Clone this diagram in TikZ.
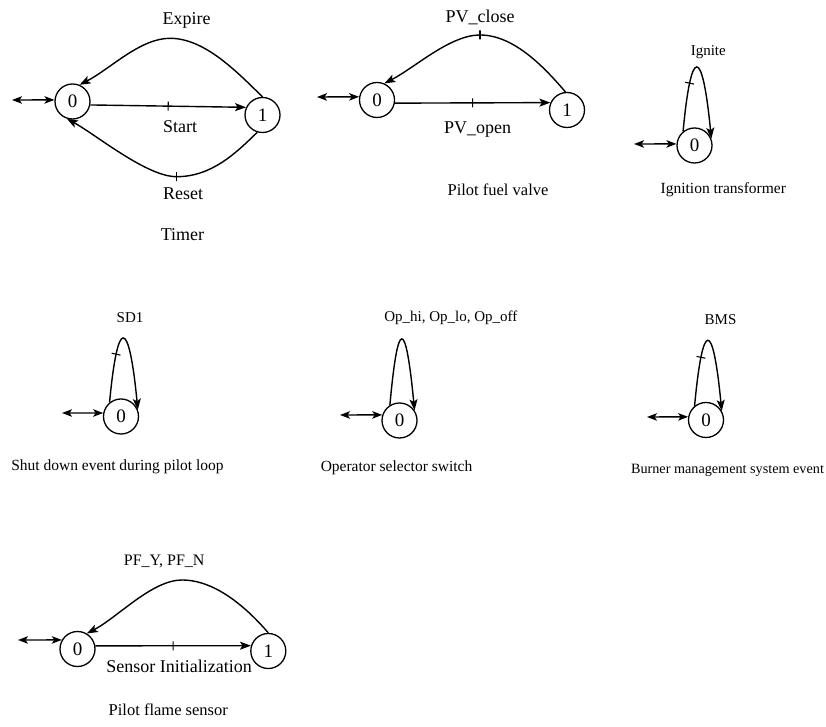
\documentclass[tikz,border=0pt]{standalone}
\usepackage{fontspec}
\setmainfont{Liberation Serif}
\usetikzlibrary{arrows.meta}
\begin{document}
\begin{tikzpicture}[x=1pt,y=1pt,
  stt/.style={circle, draw, line width=1.3pt, minimum size=35pt, inner sep=0pt,
              font=\fontsize{19}{19}\selectfont},
  trans/.style={line width=1.4pt, -{Stealth[length=11pt,width=8pt,inset=2.5pt]}},
  initarr/.style={line width=1.4pt,
              {Stealth[length=10pt,width=7.5pt,inset=2.5pt]}-{Stealth[length=10pt,width=7.5pt,inset=2.5pt]}},
  tickmark/.style={draw, rectangle, line width=1.1pt, sloped, inner sep=0pt,
              minimum width=0pt, minimum height=9pt},
  lbl/.style={inner sep=0pt, font=\fontsize{18}{18}\selectfont},
  slbl/.style={inner sep=0pt, font=\fontsize{15}{15}\selectfont},
  captext/.style={inner sep=0pt, font=\fontsize{15.5}{15.5}\selectfont},
  bigcap/.style={inner sep=0pt, font=\fontsize{16.5}{16.5}\selectfont}
]
\useasboundingbox (0,0) rectangle (826,727);

% ---------- Timer ----------
\node[stt] (T0) at (72.5,625.5) {0};
\node[stt] (T1) at (262.5,612) {1};
\coordinate (Tin) at (12,627);
\draw[initarr] (Tin) -- (T0.175);
\draw[trans] (T0.-11) -- node[tickmark]{} (T1.155);
\draw[trans] (T1.north) .. controls (237.5,654.5) and (205,688.7) .. (170,688.7)
   .. controls (140,688.7) and (110.2,658) .. (T0.67);
\draw[trans] (T1.253) .. controls (236.2,574.1) and (211.7,550.3) .. (176.7,550.3)
   node[tickmark,pos=1]{}
   .. controls (146.7,550.3) and (97.4,591.4) .. (T0.252);
\node[lbl] (Texp) at (186.5,707) {Expire};
\node[lbl] (Tst) at (180,600) {Start};
\node[lbl] (Trs) at (183,533.7) {Reset};
\node[lbl] (Tcap) at (182.5,492) {Timer};

% ---------- Pilot fuel valve ----------
\node[stt] (P0) at (377,627) {0};
\node[stt] (P1) at (567,617) {1};
\coordinate (Pin) at (317,630);
\draw[initarr] (Pin) -- (P0.170);
\draw[trans] (P0.-10) -- node[tickmark]{} (P1.156);
\draw[trans] (P1.95) .. controls (546.2,657.4) and (515,692) .. (480,692)
   node[tickmark,pos=1]{}
   .. controls (450,692) and (415,659.4) .. (P0.66);
\node[lbl] (Pcl) at (480,710) {PV\_close};
\node[lbl] (Pop) at (477.5,597) {PV\_open};
\node[bigcap] (Pcap) at (498,537) {Pilot fuel valve};

% ---------- Ignition transformer ----------
\node[stt] (I0) at (694.5,581.5) {0};
\coordinate (Iin) at (634,583);
\draw[initarr] (Iin) -- (I0.175);
\draw[trans] (I0.129) .. controls +(8,86) and +(-9,93) .. (I0.22)
   node[tickmark,pos=0.25]{};
\node[slbl] (Ilb) at (708.3,675) {Ignite};
\node[captext] (Icap) at (723.3,537) {Ignition transformer};

% ---------- Shut down event ----------
\node[stt] (S0) at (121,310.5) {0};
\coordinate (Sin) at (62,314);
\draw[initarr] (Sin) -- (S0.169);
\draw[trans] (S0.129) .. controls +(8,86) and +(-9,93) .. (S0.22)
   node[tickmark,pos=0.25]{};
\node[slbl] (Slb) at (130,409.7) {SD1};
\node[captext] (Scap) at (117.5,260) {Shut down event during pilot loop};

% ---------- Operator selector switch ----------
\node[stt] (O0) at (399.5,306.5) {0};
\coordinate (Oin) at (340,312);
\draw[initarr] (Oin) -- (O0.162);
\draw[trans] (O0.122) .. controls +(8,88) and +(-9,93) .. (O0.34);
\node[slbl] (Olb) at (450.8,408.7) {Op\_hi, Op\_lo, Op\_off};
\node[captext] (Ocap) at (396.5,259) {Operator selector switch};

% ---------- Burner management system event ----------
\node[stt] (B0) at (706,307) {0};
\coordinate (Bin) at (647,310);
\draw[initarr] (Bin) -- (B0.170);
\draw[trans] (B0.129) .. controls +(8,86) and +(-9,93) .. (B0.30)
   node[tickmark,pos=0.25]{};
\node[slbl] (Blb) at (720.5,407) {BMS};
\node[captext, font=\fontsize{14.2}{14.2}\selectfont] (Bcap) at (727.5,257) {Burner management system event};

% ---------- Pilot flame sensor ----------
\node[stt] (F0) at (77.5,78) {0};
\node[stt] (F1) at (268.3,76) {1};
\coordinate (Fin) at (18,87);
\draw[initarr] (Fin) -- (F0.150);
\draw[trans] (F0.10) -- node[tickmark]{} (F1.163);
\draw[trans] (F1.90) .. controls (249,116.5) and (217,147) .. (182,147)
   .. controls (152,147) and (117.4,109.4) .. (F0.59);
\node[slbl, font=\fontsize{16}{16}\selectfont] (Flb) at (164.2,165.3) {PF\_Y, PF\_N};
\node[lbl] (Fsi) at (179,60.3) {Sensor Initialization};
\node[bigcap] (Fcap) at (168.3,17) {Pilot flame sensor};
\end{tikzpicture}
\end{document}
